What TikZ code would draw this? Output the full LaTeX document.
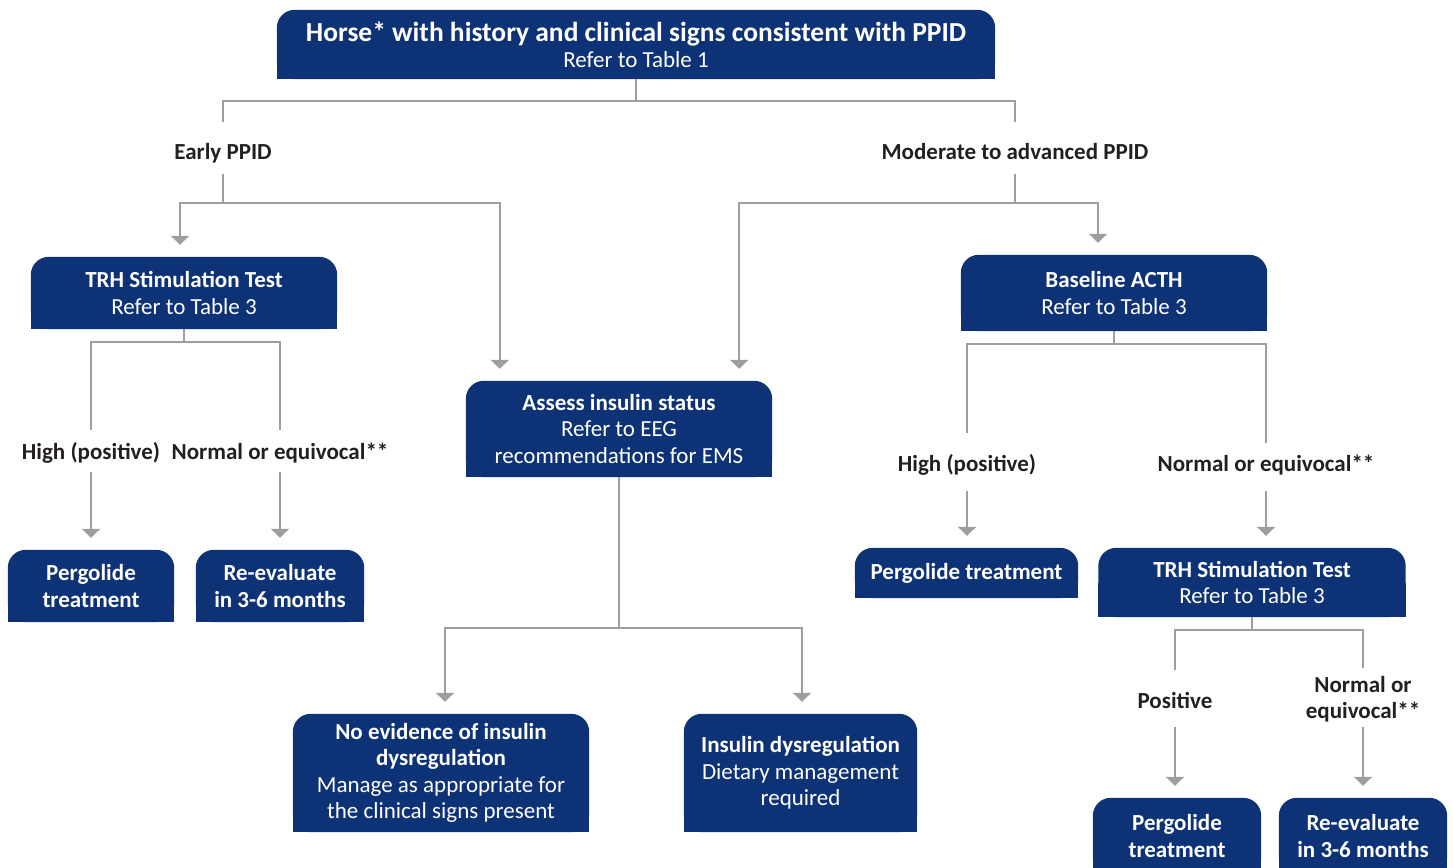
\documentclass[tikz,border=0pt]{standalone}
\usepackage{fontspec}
\setmainfont{Carlito}
\usetikzlibrary{arrows.meta,calc,backgrounds}
\definecolor{navy}{RGB}{14,50,118}
\definecolor{lgray}{RGB}{158,158,160}
\definecolor{ink}{RGB}{35,31,32}
\newcommand\fsz[2]{\fontsize{#1}{#2}\selectfont}
\newcommand\topround[1]{%
  \fill[navy, rounded corners=18pt] (#1.south west) -- (#1.north west) -- (#1.north east) -- (#1.south east) -- cycle;
  \fill[navy] (#1.west) rectangle (#1.south east);}
\begin{document}
\begin{tikzpicture}[x=1pt,y=-1pt,
  box/.style={inner sep=0pt, text=white, align=center, font=\fsz{23}{26.5}},
  lab/.style={inner sep=0pt, text=ink, align=center, font=\fsz{23}{26}\bfseries},
  conn/.style={draw=lgray, line width=2.4pt},
  arr/.style={conn, -{Triangle[width=18pt,length=9pt]}, shorten >=12pt}]
\useasboundingbox (0,0) rectangle (1453,867);

% boxes
\node[box, minimum width=718pt, minimum height=69pt] (top) at (636,44.5)
  {{\fsz{27.5}{30}\bfseries Horse* with history and clinical signs consistent with PPID}\\ Refer to Table 1};
\node[box, minimum width=306pt, minimum height=72pt] (trhL) at (184,293)
  {{\bfseries TRH Stimulation Test}\\ Refer to Table 3};
\node[box, minimum width=166pt, minimum height=72pt] (pergL) at (91,586)
  {{\bfseries Pergolide}\\ {\bfseries treatment}};
\node[box, minimum width=168pt, minimum height=72pt] (reevL) at (280,586)
  {{\bfseries Re-evaluate}\\ {\bfseries in 3-6 months}};
\node[box, minimum width=306pt, minimum height=96pt] (assess) at (619,429)
  {{\bfseries Assess insulin status}\\ Refer to EEG\\ recommendations for EMS};
\node[box, minimum width=296pt, minimum height=118pt] (noev) at (441,773)
  {{\bfseries No evidence of insulin}\\ {\bfseries dysregulation}\\ Manage as appropriate for\\ the clinical signs present};
\node[box, minimum width=233pt, minimum height=118pt] (insdys) at (800.5,773)
  {{\bfseries Insulin dysregulation}\\ Dietary management\\ required};
\node[box, minimum width=306pt, minimum height=76pt] (acth) at (1114,293)
  {{\bfseries Baseline ACTH}\\ Refer to Table 3};
\node[box, minimum width=223pt, minimum height=50pt] (pergR) at (966.5,573)
  {\bfseries Pergolide treatment};
\node[box, minimum width=307pt, minimum height=69pt] (trhR) at (1252,582.5)
  {{\bfseries TRH Stimulation Test}\\ Refer to Table 3};
\node[box, minimum width=168pt, minimum height=76pt] (pergR2) at (1177,836)
  {{\bfseries Pergolide}\\ {\bfseries treatment}};
\node[box, minimum width=168pt, minimum height=76pt] (reevR2) at (1363,836)
  {{\bfseries Re-evaluate}\\ {\bfseries in 3-6 months}};

\begin{scope}[on background layer]
  \foreach \n in {top,trhL,pergL,reevL,assess,noev,insdys,acth,pergR,trhR,pergR2,reevR2}{\topround{\n}}
\end{scope}

% labels
\node[lab] (earlyL) at (223,153) {Early PPID};
\node[lab] (modL) at (1015,152) {Moderate to advanced PPID};
\node[lab] (highL) at (91,453) {High (positive)};
\node[lab] (normL) at (280,453) {Normal or equivocal**};
\node[lab] (highR) at (967,465) {High (positive)};
\node[lab] (normR) at (1266,465) {Normal or equivocal**};
\node[lab] (posR) at (1175,700) {Positive};
\node[lab] (normR2) at (1363,699) {Normal or\\equivocal**};

% junctions
\coordinate (j0) at (636,101);
\coordinate (jE) at (223,203);
\coordinate (jM) at (1015,203);
\coordinate (jT) at ($(trhL.south)+(0,13)$);
\coordinate (jA) at ($(acth.south)+(0,13)$);
\coordinate (jS) at ($(assess.south)+(0,151)$);
\coordinate (jR) at ($(trhR.south)+(0,13)$);

% top split
\draw[conn] (top.south) -- (j0);
\draw[conn] ($(earlyL.center)+(0,-31)$) |- (j0) -| ($(modL.center)+(0,-30)$);

% early branch
\draw[conn] ($(earlyL.center)+(0,21)$) -- (jE);
\draw[arr] (jE) -| ($(trhL.north)+(-4,0)$);
\draw[arr] (jE) -| ($(assess.north west)+(34,0)$);

% moderate branch
\draw[conn] ($(modL.center)+(0,22)$) -- (jM);
\draw[arr] (jM) -| ($(assess.north east)+(-33,0)$);
\draw[arr] (jM) -| ($(acth.north)+(-16,0)$);

% TRH left
\draw[conn] (trhL.south) -- (jT);
\draw[conn] ($(highL.center)+(0,-23)$) |- (jT) -| ($(normL.center)+(0,-23)$);
\draw[arr] ($(highL.center)+(0,19)$) -- (highL.center |- pergL.north);
\draw[arr] ($(normL.center)+(0,19)$) -- (normL.center |- reevL.north);

% assess
\draw[conn] (assess.south) -- (jS);
\draw[arr] (jS) -| ($(noev.north)+(4,0)$);
\draw[arr] (jS) -| ($(insdys.north)+(1.5,0)$);

% ACTH
\draw[conn] (acth.south) -- (jA);
\draw[conn] ($(highR.center)+(0,-32)$) |- (jA) -| ($(normR.center)+(0,-22)$);
\draw[arr] ($(highR.center)+(0,26)$) -- (highR.center |- pergR.north);
\draw[arr] ($(normR.center)+(0,26)$) -- (normR.center |- trhR.north);

% TRH right
\draw[conn] (trhR.south) -- (jR);
\draw[conn] ($(posR.center)+(0,-30)$) |- (jR) -| ($(normR2.center)+(0,-31)$);
\draw[arr] ($(posR.center)+(0,27)$) -- (posR.center |- pergR2.north);
\draw[arr] ($(normR2.center)+(0,28)$) -- (normR2.center |- reevR2.north);
\end{tikzpicture}
\end{document}
